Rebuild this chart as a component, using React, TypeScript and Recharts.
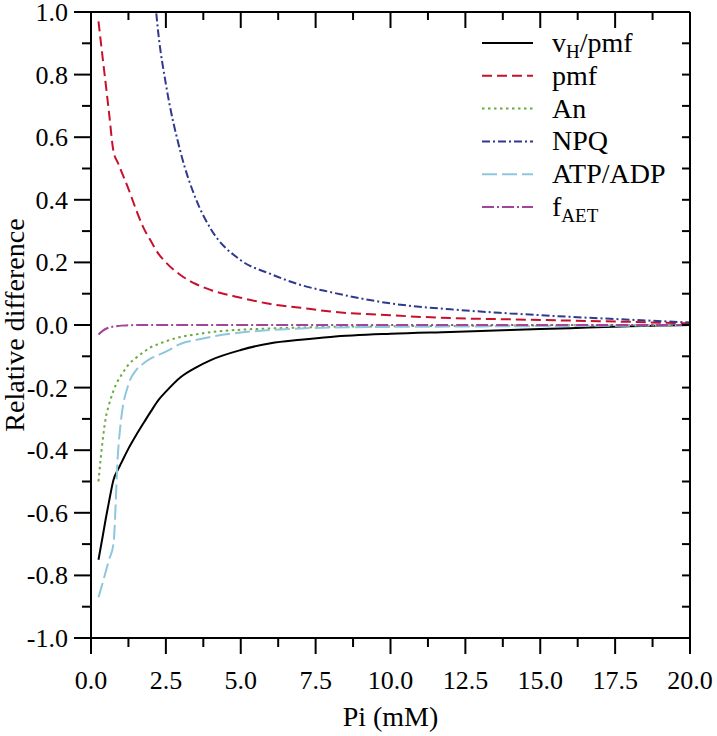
import React from "react";
import { LineChart, Line, XAxis, YAxis, Legend } from "recharts";

const FONT = "Liberation Serif, DejaVu Serif, Times New Roman, serif";

// Pi (mM)
const xs = [0.25, 0.4, 0.5, 0.6, 0.75, 0.9, 1, 1.25, 1.5, 1.75, 2, 2.25, 2.5, 3, 3.5, 4, 5, 6, 7, 8, 10, 12, 14, 16, 18, 20];

// relative differences
const vhPmf = [-0.75, -0.67, -0.615, -0.565, -0.495, -0.462, -0.443, -0.395, -0.353, -0.314, -0.276, -0.24, -0.213, -0.166, -0.136, -0.112, -0.08, -0.058, -0.047, -0.038, -0.028, -0.022, -0.016, -0.01, -0.004, 0];
const pmf = [0.97, 0.845, 0.763, 0.68, 0.555, 0.518, 0.494, 0.435, 0.37, 0.311, 0.268, 0.228, 0.2, 0.159, 0.131, 0.112, 0.087, 0.067, 0.055, 0.043, 0.031, 0.022, 0.018, 0.014, 0.01, 0.005];
const an = [-0.5, -0.36, -0.293, -0.255, -0.21, -0.178, -0.162, -0.127, -0.105, -0.087, -0.071, -0.061, -0.052, -0.038, -0.03, -0.023, -0.015, -0.011, -0.008, -0.006, -0.004, -0.003, -0.002, -0.001, -0.001, 0];
const npq = [null, null, null, null, null, null, null, null, null, null, 1.2, 0.93, 0.77, 0.549, 0.403, 0.307, 0.207, 0.163, 0.128, 0.105, 0.069, 0.05, 0.037, 0.026, 0.017, 0.008];
const atpAdp = [-0.87, -0.82, -0.785, -0.751, -0.7, -0.41, -0.306, -0.19, -0.145, -0.123, -0.107, -0.096, -0.085, -0.06, -0.048, -0.038, -0.024, -0.016, -0.011, -0.008, -0.006, -0.005, -0.004, -0.003, -0.002, 0];
const fAet = [-0.03, -0.018, -0.012, -0.008, -0.005, -0.003, -0.002, -0.001, 0, 0, 0, 0, 0, 0, 0, 0, 0, 0, 0, 0, 0, 0, 0, 0, 0, 0];

const xTicks = Array.from({ length: 17 }, (_, i) => i * 1.25);
const yTicks = Array.from({ length: 21 }, (_, i) => (i - 10) / 10);

const data = xs.map((x, i) => ({
  x,
  vh: vhPmf[i],
  pmf: pmf[i],
  an: an[i],
  npq: npq[i],
  atp: atpAdp[i],
  faet: fAet[i],
}));

const series = [
  { key: "vh", color: "#000000", dash: undefined, label: ["v", "H", "/pmf"] },
  { key: "pmf", color: "#c8102e", dash: "10 5", label: ["pmf"] },
  { key: "an", color: "#6aaa3c", dash: "2.5 3.5", label: ["An"] },
  { key: "npq", color: "#2e3a8c", dash: "8 3 2 3", label: ["NPQ"] },
  { key: "atp", color: "#8ec7dd", dash: "15 5", label: ["ATP/ADP"] },
  { key: "faet", color: "#a3439b", dash: "12 3 2 3", label: ["f", "AET"] },
];

const isMajorX = (v) => Math.abs(v / 2.5 - Math.round(v / 2.5)) < 1e-6;
const isMajorY = (v) => Math.abs(Math.round(v * 10)) % 2 === 0;

const txt = { fontFamily: FONT, fill: "#000" };
const mark = { stroke: "#000", strokeWidth: 2, fill: "none" };

function BottomTick(props) {
  const { x, y, payload } = props;
  const v = payload.value;
  const major = isMajorX(v);
  return (
    <g>
      <path d={`M${x},${y - 1}V${y + (major ? 16 : 9)}`} style={mark} />
      {major && (
        <text x={x} y={y + 51} textAnchor="middle" fontSize={26} style={txt}>
          {v.toFixed(1)}
        </text>
      )}
    </g>
  );
}

function TopTick(props) {
  const { x, y, payload } = props;
  const major = isMajorX(payload.value);
  return <path d={`M${x},${y}V${y + (major ? 16 : 8)}`} style={mark} />;
}

function LeftTick(props) {
  const { x, y, payload } = props;
  const v = payload.value;
  const major = isMajorY(v);
  return (
    <g>
      <path d={`M${x - (major ? 17 : 9)},${y}H${x + 1}`} style={mark} />
      {major && (
        <text x={x - 23} y={y + 9} textAnchor="end" fontSize={26} style={txt}>
          {v.toFixed(1)}
        </text>
      )}
    </g>
  );
}

function RightTick(props) {
  const { x, y } = props;
  return <path d={`M${x - 8},${y}H${x}`} style={mark} />;
}

function LegendBox() {
  return (
    <svg width={240} height={210} style={{ display: "block" }}>
      {series.map((s, i) => {
        const cy = 14 + i * 32.8;
        return (
          <g key={s.key}>
            <line x1={2} x2={53} y1={cy} y2={cy} stroke={s.color} strokeWidth={2} strokeDasharray={s.dash} />
            <text x={72} y={cy + 9} fontSize={28} style={txt}>
              {s.label[0]}
              {s.label[1] && (
                <tspan dy={6} fontSize={19}>
                  {s.label[1]}
                </tspan>
              )}
              {s.label[2] && <tspan dy={-6}>{s.label[2]}</tspan>}
            </text>
          </g>
        );
      })}
    </svg>
  );
}

export default function App() {
  return (
    <div style={{ position: "absolute", left: 0, top: 0, width: 717, height: 736, background: "#fff", fontFamily: FONT }}>
      <LineChart width={717} height={736} data={data} margin={{ top: 11, right: 26, left: 0, bottom: 0 }}>
        <XAxis
          dataKey="x"
          type="number"
          domain={[0, 20]}
          ticks={xTicks}
          interval={0}
          allowDataOverflow
          height={98}
          tickSize={0}
          tickMargin={0}
          tickLine={false}
          axisLine={{ stroke: "#000", strokeWidth: 2 }}
          tick={(p) => <BottomTick {...p} />}
          label={(p) => {
            const vb = p.viewBox;
            return (
              <text x={vb.x + vb.width / 2} y={vb.y + 88} textAnchor="middle" fontSize={28} style={txt}>
                Pi (mM)
              </text>
            );
          }}
        />
        <XAxis
          xAxisId="top"
          orientation="top"
          dataKey="x"
          type="number"
          domain={[0, 20]}
          ticks={xTicks}
          interval={0}
          allowDataOverflow
          height={1}
          tickSize={0}
          tickMargin={0}
          tickLine={false}
          axisLine={{ stroke: "#000", strokeWidth: 2 }}
          tick={(p) => <TopTick {...p} />}
        />
        <YAxis
          type="number"
          domain={[-1, 1]}
          ticks={yTicks}
          interval={0}
          allowDataOverflow
          width={91}
          tickSize={0}
          tickMargin={0}
          tickLine={false}
          axisLine={{ stroke: "#000", strokeWidth: 2 }}
          tick={(p) => <LeftTick {...p} />}
          label={(p) => {
            const vb = p.viewBox;
            const cx = vb.x + 24;
            const cy = vb.y + vb.height / 2;
            return (
              <text x={cx} y={cy} transform={`rotate(-90 ${cx} ${cy})`} textAnchor="middle" fontSize={28} style={txt}>
                Relative difference
              </text>
            );
          }}
        />
        <YAxis
          yAxisId="right"
          orientation="right"
          type="number"
          domain={[-1, 1]}
          ticks={yTicks}
          interval={0}
          allowDataOverflow
          width={1}
          tickSize={0}
          tickMargin={0}
          tickLine={false}
          axisLine={{ stroke: "#000", strokeWidth: 2 }}
          tick={(p) => <RightTick {...p} />}
        />
        <Legend
          layout="vertical"
          align="center"
          verticalAlign="middle"
          wrapperStyle={{ left: 480, top: 29, width: 240 }}
          content={() => <LegendBox />}
        />
        {series.map((s) => (
          <Line
            key={s.key}
            dataKey={s.key}
            type="monotone"
            stroke={s.color}
            strokeWidth={2}
            strokeDasharray={s.dash}
            dot={false}
            activeDot={false}
            isAnimationActive={false}
          />
        ))}
      </LineChart>
    </div>
  );
}
